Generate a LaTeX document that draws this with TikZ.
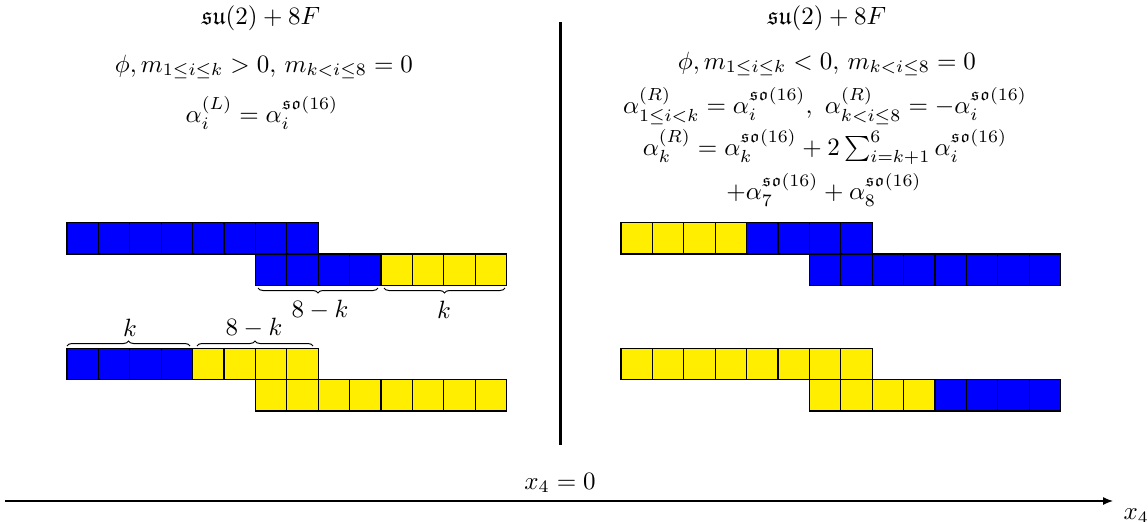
\documentclass[tikz,border=0pt]{standalone}
\usepackage{amssymb}
\usetikzlibrary{decorations.pathreplacing,arrows.meta}
\definecolor{cblue}{RGB}{0,0,255}
\definecolor{cyel}{RGB}{255,238,0}
\tikzset{
  cell/.style={draw=black, line width=0.5pt},
  brc/.style={decorate, decoration={brace, amplitude=2pt}, line width=0.4pt},
  eq/.style={inner sep=0.5pt},
}
\newcommand{\cellrow}[3]{%
  \foreach \c [count=\i from 0] in {#3} {
    \filldraw[cell, fill=\c] ({#1+\i*31.4},#2) rectangle ++(31.4,31.4);
  }}
\begin{document}
\begin{tikzpicture}[x=0.4pt,y=-0.4pt]
\useasboundingbox (0,0) rectangle (1148,521);
% left texts
\node[eq] (tl1) at (261,18) {$\mathfrak{su}(2)+8F$};
\node[eq] (tl2) at (264,67) {$\phi, m_{1\leq i\leq k}>0,\, m_{k<i\leq 8}=0$};
\node[eq] (tl3) at (262,113) {$\alpha_i^{(L)}=\alpha_i^{\mathfrak{so}(16)}$};
% right texts
\node[eq] (tr1) at (827,18) {$\mathfrak{su}(2)+8F$};
\node[eq] (tr2) at (827,64) {$\phi, m_{1\leq i\leq k}<0,\, m_{k<i\leq 8}=0$};
\node[eq] (tr3) at (825,106) {$\alpha^{(R)}_{1\leq i<k}=\alpha_i^{\mathfrak{so}(16)},\ \alpha^{(R)}_{k<i\leq 8}=-\alpha_i^{\mathfrak{so}(16)}$};
\node[eq] (tr4) at (825,147) {$\alpha^{(R)}_k=\alpha_k^{\mathfrak{so}(16)}+2\sum_{i=k+1}^6\alpha_i^{\mathfrak{so}(16)}$};
\node[eq] (tr5) at (824,190) {$+\alpha_7^{\mathfrak{so}(16)}+\alpha_8^{\mathfrak{so}(16)}$};
% left cells
\cellrow{67}{222.5}{cblue,cblue,cblue,cblue,cblue,cblue,cblue,cblue}
\cellrow{255.4}{253.9}{cblue,cblue,cblue,cblue,cyel,cyel,cyel,cyel}
\cellrow{67}{348.3}{cblue,cblue,cblue,cblue,cyel,cyel,cyel,cyel}
\cellrow{255.4}{379.7}{cyel,cyel,cyel,cyel,cyel,cyel,cyel,cyel}
% right cells
\cellrow{621}{222.5}{cyel,cyel,cyel,cyel,cblue,cblue,cblue,cblue}
\cellrow{809.4}{253.9}{cblue,cblue,cblue,cblue,cblue,cblue,cblue,cblue}
\cellrow{621}{348.3}{cyel,cyel,cyel,cyel,cyel,cyel,cyel,cyel}
\cellrow{809.4}{379.7}{cyel,cyel,cyel,cyel,cblue,cblue,cblue,cblue}
% braces
\coordinate (b1a) at (378,288); \coordinate (b1b) at (258,288);
\coordinate (b2a) at (505,288); \coordinate (b2b) at (384,288);
\coordinate (b3a) at (67,346);  \coordinate (b3b) at (190,346);
\coordinate (b4a) at (197,346); \coordinate (b4b) at (313,346);
\draw[brc] (b1a) -- (b1b);
\draw[brc] (b2a) -- (b2b);
\draw[brc] (b3a) -- (b3b);
\draw[brc] (b4a) -- (b4b);
\node (l1) at (320,310) {$8-k$};
\node (l2) at (444,310) {$k$};
\node (l3) at (130,328) {$k$};
\node (l4) at (254,328) {$8-k$};
% vertical separator
\coordinate (vt) at (560,22); \coordinate (vb) at (560,445);
\draw[line width=1.2pt] (vt) -- (vb);
% axis
\coordinate (a0) at (5,501); \coordinate (a1) at (1113,501);
\draw[-{Latex[length=4pt,width=3.2pt]}, line width=0.5pt] (a0) -- (a1);
\node (x40) at (560,483) {$x_4=0$};
\node[anchor=north west, inner sep=0pt] (x4) at (1123,508) {$x_4$};
\end{tikzpicture}
\end{document}
